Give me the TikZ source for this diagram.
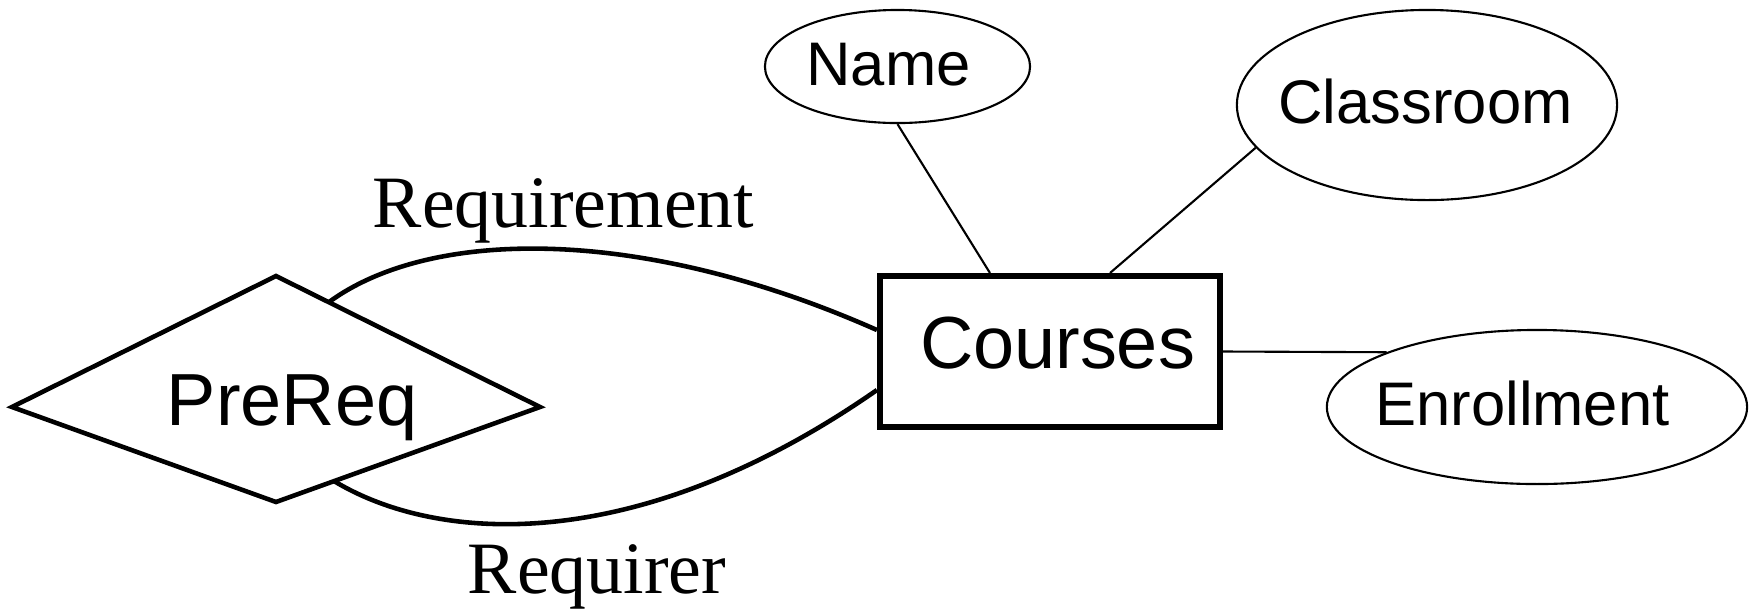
\documentclass[tikz,border=0pt]{standalone}
\usepackage{fontspec}
\setmainfont{Liberation Serif}
\setsansfont{Liberation Sans}
\usetikzlibrary{shapes.geometric,calc}
\tikzset{
  attr/.style={draw, ellipse, line width=0.6pt, inner sep=0pt},
  entity/.style={draw, rectangle, line width=1.7pt, inner sep=0pt,
    minimum width=3.4cm, minimum height=1.51cm},
  rel/.style={line width=1.3pt},
  attrline/.style={line width=0.6pt},
  bigtext/.style={font=\sffamily\fontsize{21pt}{25pt}\selectfont, inner sep=0pt, anchor=base},
  attrtext/.style={font=\sffamily\fontsize{17.5pt}{21pt}\selectfont, inner sep=0pt, anchor=base},
  roletext/.style={font=\rmfamily\fontsize{21pt}{25pt}\selectfont, inner sep=0pt, anchor=base}
}
\begin{document}
\begin{tikzpicture}[x=0.01cm,y=-0.01cm]
\useasboundingbox (0,0) rectangle (1756,611);
% relationship
\coordinate (pq-w) at (12,407);
\coordinate (pq-n) at (276,276);
\coordinate (pq-e) at (540,407);
\coordinate (pq-s) at (276,502);
\draw [rel] (pq-w) -- (pq-n) -- (pq-e) -- (pq-s) -- cycle;
\node [bigtext] (pq-t) at (292,425) {PreReq};
% entity
\node [entity] (crs) at (1050,351.5) {};
\node [bigtext] (crs-t) at (1057.5,368) {Courses};
% attributes
\node [attr, minimum width=2.65cm, minimum height=1.13cm] (name) at (897.5,66.5) {};
\node [attrtext] (name-t) at (888.5,85) {Name};
\node [attr, minimum width=3.8cm, minimum height=1.9cm] (room) at (1427,105) {};
\node [attrtext] (room-t) at (1425.5,123) {Classroom};
\node [attr, minimum width=4.2cm, minimum height=1.54cm] (enrol) at (1537,407) {};
\node [attrtext] (enrol-t) at (1522.5,425) {Enrollment};
\draw [attrline] (name.south) -- ([xshift=-6mm]crs.north);
\draw [attrline] (room.194) -- ([xshift=6mm]crs.north);
\draw [attrline] (crs.east) -- (enrol.160);
% roles
\coordinate (req-a) at ($(pq-n)!0.2!(pq-e)$);
\coordinate (rqr-a) at ($(pq-s)!0.22!(pq-e)$);
\draw [rel] (req-a) .. controls (430,228) and (640,225) .. ([yshift=2.15mm]crs.west);
\draw [rel] (rqr-a) .. controls (440,545) and (640,555) .. ([yshift=-3.85mm]crs.west);
\node [roletext] (req-t) at (563.5,227) {Requirement};
\node [roletext] (rqr-t) at (597,593) {Requirer};
\end{tikzpicture}
\end{document}
